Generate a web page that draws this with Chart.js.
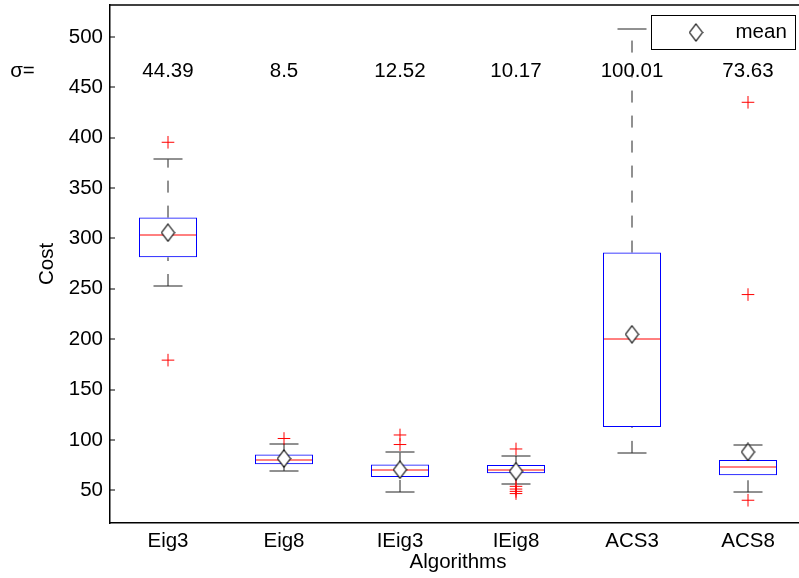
<!DOCTYPE html>
<html lang="en">
<head>
<meta charset="UTF-8" />
<title>Cost by algorithm</title>
<script src="https://cdn.jsdelivr.net/npm/chart.js@4/dist/chart.umd.min.js"></script>
<style>
  html, body { margin: 0; padding: 0; overflow: hidden; background: #fff; }
  canvas { display: block; }
</style>
</head>
<body>
<canvas id="chart" width="806" height="578"></canvas>
<script>
// box plot summary per algorithm
const algorithms = ['Eig3', 'Eig8', 'IEig3', 'IEig8', 'ACS3', 'ACS8'];
const sigmas = ['44.39', '8.5', '12.52', '10.17', '100.01', '73.63'];
const lowerWhisker = [252.8, 69.2, 48.3, 56.7, 87.1, 48.0];
const q1 = [281.3, 75.8, 63.2, 66.9, 112.9, 64.9];
const median = [303.9, 79.8, 70.6, 69.9, 199.9, 73.1];
const q3 = [320.7, 85.5, 75.5, 75.1, 286.0, 80.1];
const upperWhisker = [378.6, 96.4, 88.0, 84.1, 508.3, 95.0];
const means = [305.8, 81.5, 70.4, 68.9, 204.9, 88.0];
const outliers = [
  [395.5, 179.2],
  [101.4],
  [104.9, 95.4],
  [91.0, 53.9, 51.2, 48.9, 46.7],
  [],
  [435.2, 244.3, 40.1],
];
const yTicks = [50, 100, 150, 200, 250, 300, 350, 400, 450, 500];
const sigmaLevel = 460;

const FONT = "'Liberation Sans', Arial, Helvetica, sans-serif";
const FONT_SIZE = 20.5;
Chart.defaults.font.family = FONT;
Chart.defaults.font.size = FONT_SIZE;
Chart.defaults.color = '#000';

// tall open diamond used for the mean marker
function diamondMarker(w, h) {
  const c = document.createElement('canvas');
  c.width = w + 2;
  c.height = h + 2;
  const g = c.getContext('2d');
  g.fillStyle = '#fff';
  g.strokeStyle = '#000';
  g.lineWidth = 1.1;
  g.beginPath();
  g.moveTo(c.width / 2, 1);
  g.lineTo(c.width - 1, c.height / 2);
  g.lineTo(c.width / 2, c.height - 1);
  g.lineTo(1, c.height / 2);
  g.closePath();
  g.fill();
  g.stroke();
  return c;
}
const meanMarker = diamondMarker(13, 17);

const outlierPoints = [];
outliers.forEach((vals, i) => vals.forEach((v) => outlierPoints.push({ x: algorithms[i], y: v })));

function seg(ctx, x1, y1, x2, y2) {
  ctx.beginPath();
  ctx.moveTo(x1, y1);
  ctx.lineTo(x2, y2);
  ctx.stroke();
}

// whiskers, caps and medians go under the markers
const boxLines = {
  id: 'boxLines',
  beforeDatasetsDraw(chart) {
    const { ctx, scales: { x, y } } = chart;
    const step = x.getPixelForValue(1) - x.getPixelForValue(0);
    const boxHalf = step / 4;
    const capHalf = step / 8;
    ctx.save();
    ctx.lineWidth = 1;
    algorithms.forEach((name, i) => {
      const cx = Math.round(x.getPixelForValue(i));
      ctx.strokeStyle = '#222';
      ctx.setLineDash([12, 13]);
      seg(ctx, cx, y.getPixelForValue(lowerWhisker[i]), cx, y.getPixelForValue(q1[i]));
      seg(ctx, cx, y.getPixelForValue(q3[i]), cx, y.getPixelForValue(upperWhisker[i]));
      ctx.setLineDash([]);
      [lowerWhisker[i], upperWhisker[i]].forEach((v) => {
        const py = Math.round(y.getPixelForValue(v));
        seg(ctx, cx - capHalf, py, cx + capHalf, py);
      });
      ctx.strokeStyle = '#ff0000';
      const my = Math.round(y.getPixelForValue(median[i]));
      seg(ctx, cx - boxHalf, my, cx + boxHalf, my);
    });
    ctx.restore();
  },
  afterDraw(chart) {
    const { ctx, chartArea, scales: { x, y } } = chart;
    ctx.save();
    ctx.strokeStyle = '#000';
    ctx.lineWidth = 1.5;
    // top frame line
    seg(ctx, chartArea.left, chartArea.top, chartArea.right, chartArea.top);
    // inward tick marks
    ctx.lineWidth = 1;
    yTicks.forEach((v) => {
      const py = Math.round(y.getPixelForValue(v));
      seg(ctx, chartArea.left, py, chartArea.left + 5, py);
    });
    // sigma row
    ctx.fillStyle = '#000';
    ctx.font = FONT_SIZE + 'px ' + FONT;
    ctx.textBaseline = 'alphabetic';
    ctx.textAlign = 'center';
    const sy = y.getPixelForValue(sigmaLevel);
    ctx.fillText('σ=', 22.5, sy);
    sigmas.forEach((s, i) => ctx.fillText(s, x.getPixelForValue(i), sy));
    // legend
    const lx = 651.5, ly = 15.5, lw = 144, lh = 34;
    ctx.fillStyle = '#fff';
    ctx.fillRect(lx, ly, lw, lh);
    ctx.strokeRect(lx, ly, lw, lh);
    ctx.drawImage(meanMarker, 696 - meanMarker.width / 2, ly + lh / 2 - meanMarker.height / 2);
    ctx.fillStyle = '#000';
    ctx.textAlign = 'left';
    ctx.textBaseline = 'middle';
    ctx.fillText('mean', 735.5, ly + lh / 2);
    ctx.restore();
  },
};

new Chart(document.getElementById('chart'), {
  type: 'bar',
  data: {
    labels: algorithms,
    datasets: [
      {
        type: 'line',
        label: 'mean',
        data: means,
        showLine: false,
        pointStyle: meanMarker,
        pointRadius: 8,
      },
      {
        type: 'line',
        label: 'outliers',
        data: outlierPoints,
        showLine: false,
        pointStyle: 'cross',
        pointRadius: 6.3,
        pointBorderColor: '#ff0000',
        pointBorderWidth: 1,
      },
      {
        label: 'box',
        data: algorithms.map((_, i) => [q1[i], q3[i]]),
        backgroundColor: 'rgba(0,0,0,0)',
        borderColor: '#0000ff',
        borderWidth: 1,
        borderSkipped: false,
        barPercentage: 0.5,
        categoryPercentage: 1,
        grouped: false,
      },
    ],
  },
  options: {
    responsive: false,
    animation: false,
    devicePixelRatio: 1,
    layout: { autoPadding: false, padding: { top: 5, left: 0, right: 0, bottom: 0 } },
    plugins: {
      legend: { display: false },
      tooltip: { enabled: false },
    },
    scales: {
      x: {
        type: 'category',
        offset: true,
        grid: { display: false, drawTicks: false },
        border: { display: true, color: '#000', width: 1.5 },
        ticks: { padding: 6, maxRotation: 0, autoSkip: false },
        title: { display: true, text: 'Algorithms', padding: { top: 0, bottom: 3 } },
        afterFit: (s) => { s.height = 55; s.paddingLeft = 0; s.paddingRight = 0; },
      },
      y: {
        type: 'linear',
        min: 17.5,
        max: 531.8,
        grid: { display: false, drawTicks: false },
        border: { display: true, color: '#000', width: 1.5 },
        ticks: { padding: 7 },
        afterBuildTicks: (s) => { s.ticks = yTicks.map((v) => ({ value: v })); },
        title: { display: true, text: 'Cost', padding: { top: 35, bottom: 0 } },
        afterFit: (s) => { s.width = 110; s.paddingTop = 0; s.paddingBottom = 0; },
      },
    },
  },
  plugins: [boxLines],
});
</script>
</body>
</html>
